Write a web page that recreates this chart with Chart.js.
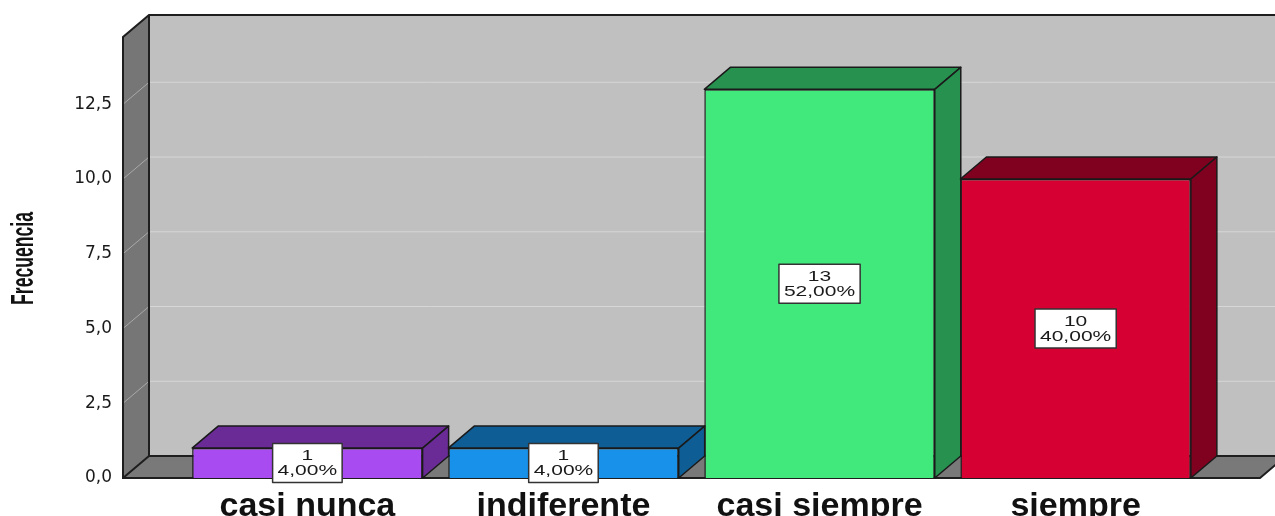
<!DOCTYPE html>
<html>
<head>
<meta charset="utf-8">
<script src="https://cdn.jsdelivr.net/npm/chart.js@4/dist/chart.umd.min.js"></script>
<style>
  html, body { margin: 0; padding: 0; background: #fff; }
  #wrap { width: 1275px; height: 516px; }
</style>
</head>
<body>
<div id="wrap"><canvas id="myChart" width="1275" height="516"></canvas></div>
<script>
const categories = ['casi nunca', 'indiferente', 'casi siempre', 'siempre'];
const counts = [1, 1, 13, 10];
const yTickValues = [0, 2.5, 5, 7.5, 10, 12.5];
const yTickLabels = ['0,0', '2,5', '5,0', '7,5', '10,0', '12,5'];
const frontColors = ['#A84BF1', '#1791E9', '#41E97D', '#D70033'];
const sideColors = ['#6B2B96', '#0E5D95', '#279250', '#80001F'];

// depth of the fake 3D box
const dx = 26, dy = -22;
const total = counts.reduce((a, b) => a + b, 0);

function pctLabel(v) {
    return (v / total * 100).toFixed(2).replace('.', ',') + '%';
}

const walls = {
    id: 'walls',
    beforeDatasetsDraw(chart) {
        const ctx = chart.ctx;
        const { left, right, top, bottom } = chart.chartArea;
        const yScale = chart.scales.y;
        ctx.save();

        // back wall
        ctx.fillStyle = '#C0C0C0';
        ctx.fillRect(left + dx, top + dy, right - left, bottom - top);

        // left wall
        ctx.fillStyle = '#767676';
        ctx.beginPath();
        ctx.moveTo(left, top);
        ctx.lineTo(left + dx, top + dy);
        ctx.lineTo(left + dx, bottom + dy);
        ctx.lineTo(left, bottom);
        ctx.closePath();
        ctx.fill();

        // floor
        ctx.fillStyle = '#797979';
        ctx.beginPath();
        ctx.moveTo(left, bottom);
        ctx.lineTo(left + dx, bottom + dy);
        ctx.lineTo(right + dx, bottom + dy);
        ctx.lineTo(right, bottom);
        ctx.closePath();
        ctx.fill();

        // grid lines
        yTickValues.forEach(v => {
            if (v === 0) return;
            const y = yScale.getPixelForValue(v);
            ctx.strokeStyle = '#A9A9A9';
            ctx.lineWidth = 1;
            ctx.beginPath();
            ctx.moveTo(left, y);
            ctx.lineTo(left + dx, y + dy);
            ctx.stroke();
            ctx.strokeStyle = '#D6D6D6';
            ctx.beginPath();
            ctx.moveTo(left + dx, y + dy);
            ctx.lineTo(right + dx, y + dy);
            ctx.stroke();
        });

        // edges
        ctx.strokeStyle = '#1E1E1E';
        ctx.lineWidth = 2;
        ctx.beginPath();
        ctx.moveTo(right + dx, top + dy);
        ctx.lineTo(left + dx, top + dy);
        ctx.lineTo(left, top);
        ctx.lineTo(left, bottom);
        ctx.lineTo(right, bottom);
        ctx.lineTo(right + dx, bottom + dy);
        ctx.lineTo(left + dx, bottom + dy);
        ctx.lineTo(left + dx, top + dy);
        ctx.moveTo(left, bottom);
        ctx.lineTo(left + dx, bottom + dy);
        ctx.stroke();

        // y axis title, condensed like the original
        ctx.translate(24, (top + bottom) / 2 + 1);
        ctx.rotate(-Math.PI / 2);
        ctx.scale(0.55, 1);
        ctx.font = 'bold 32px "Liberation Sans", Arial, sans-serif';
        ctx.fillStyle = '#111';
        ctx.textAlign = 'center';
        ctx.textBaseline = 'middle';
        ctx.fillText('Frecuencia', 0, 0);
        ctx.restore();
    },
    afterDatasetsDraw(chart) {
        const ctx = chart.ctx;
        const meta = chart.getDatasetMeta(0);
        ctx.save();
        meta.data.forEach((bar, i) => {
            const { x, y, base, width } = bar.getProps(['x', 'y', 'base', 'width'], true);
            const l = x - width / 2, r = x + width / 2;
            ctx.fillStyle = sideColors[i];
            ctx.strokeStyle = '#1A1A1A';
            ctx.lineWidth = 1.5;
            ctx.lineJoin = 'round';
            // top face
            ctx.beginPath();
            ctx.moveTo(l, y);
            ctx.lineTo(l + dx, y + dy);
            ctx.lineTo(r + dx, y + dy);
            ctx.lineTo(r, y);
            ctx.closePath();
            ctx.fill();
            ctx.stroke();
            // side face
            ctx.beginPath();
            ctx.moveTo(r, y);
            ctx.lineTo(r + dx, y + dy);
            ctx.lineTo(r + dx, base + dy);
            ctx.lineTo(r, base);
            ctx.closePath();
            ctx.fill();
            ctx.stroke();
        });

        // value boxes
        const sx = 1.4;
        ctx.font = '15px "Liberation Sans", Arial, sans-serif';
        ctx.textAlign = 'center';
        ctx.textBaseline = 'middle';
        meta.data.forEach((bar, i) => {
            const { x, y, base } = bar.getProps(['x', 'y', 'base'], true);
            const lines = [String(counts[i]), pctLabel(counts[i])];
            const w = Math.max(...lines.map(t => ctx.measureText(t).width)) * sx + 10;
            const h = 39;
            const cy = (y + base) / 2;
            ctx.fillStyle = '#FFFFFF';
            ctx.strokeStyle = '#333333';
            ctx.lineWidth = 1.5;
            ctx.fillRect(x - w / 2, cy - h / 2, w, h);
            ctx.strokeRect(x - w / 2, cy - h / 2, w, h);
            ctx.fillStyle = '#1A1A1A';
            lines.forEach((t, k) => {
                ctx.save();
                ctx.translate(x, cy - 7 + k * 15);
                ctx.scale(sx, 1);
                ctx.fillText(t, 0, 0);
                ctx.restore();
            });
        });
        ctx.restore();
    }
};

const ctx = document.getElementById('myChart').getContext('2d');
const chart = new Chart(ctx, {
    type: 'bar',
    data: {
        datasets: [{
            label: 'Frecuencia',
            data: counts.map((v, i) => ({ x: i, y: v })),
            backgroundColor: frontColors,
            borderColor: '#1A1A1A',
            borderWidth: 1.5,
            barPercentage: 0.9,
            categoryPercentage: 1.0
        }]
    },
    options: {
        responsive: false,
        animation: false,
        layout: { padding: { top: 37, right: 15, left: 0, bottom: 0 } },
        plugins: {
            legend: { display: false },
            tooltip: { enabled: false }
        },
        scales: {
            x: {
                type: 'linear',
                offset: false,
                min: -0.72,
                max: 3.72,
                afterBuildTicks: s => { s.ticks = categories.map((c, i) => ({ value: i })); },
                afterFit: s => { s.height = 38; },
                ticks: {
                    callback: (v, i) => categories[i],
                    autoSkip: false,
                    maxRotation: 0,
                    padding: 8,
                    color: '#111',
                    font: { family: '"Liberation Sans", Arial, sans-serif', size: 34, weight: 'bold' }
                },
                grid: { display: false, drawTicks: false, offset: false },
                border: { display: false }
            },
            y: {
                min: 0,
                max: 14.75,
                afterBuildTicks: s => { s.ticks = yTickValues.map(v => ({ value: v })); },
                afterFit: s => { s.width = 123; },
                ticks: {
                    callback: (v, i) => yTickLabels[i],
                    padding: 11,
                    color: '#1A1A1A',
                    font: { family: '"DejaVu Sans", sans-serif', size: 17 }
                },
                grid: { display: false, drawTicks: false },
                border: { display: false }
            }
        }
    },
    plugins: [walls]
});
</script>
</body>
</html>
